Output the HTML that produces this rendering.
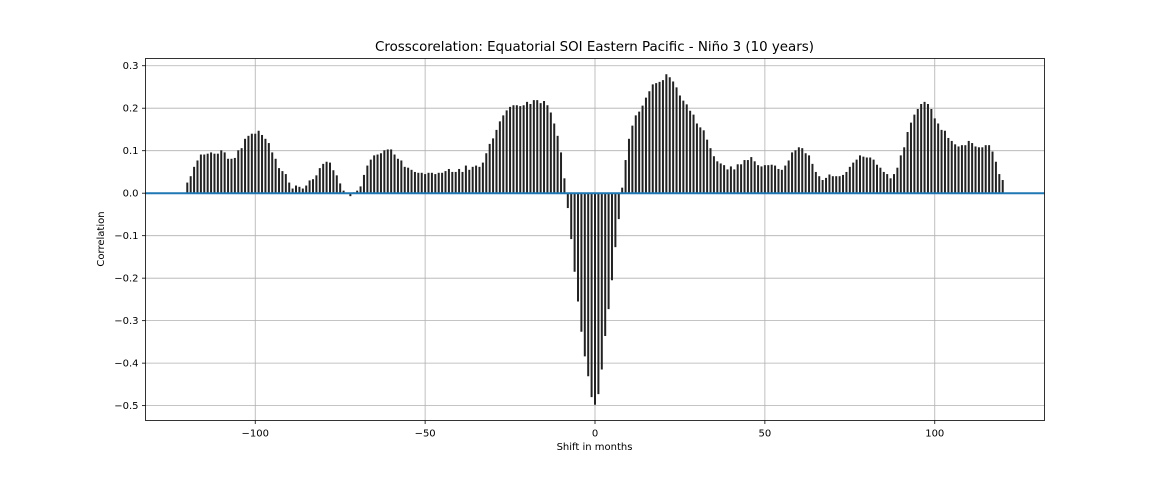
<!DOCTYPE html>
<html><head><meta charset="utf-8"><style>
html,body{margin:0;padding:0;background:#fff;}
svg{display:block;font-family:"DejaVu Sans","Liberation Sans",sans-serif;}
</style></head><body>
<svg id="chart" width="1160" height="480" viewBox="0 0 1160 480" xmlns="http://www.w3.org/2000/svg">
<rect width="1160" height="480" fill="#fff"/>
<text x="594.5" y="51" text-anchor="middle" font-size="13.4" fill="#000">Crosscorelation: Equatorial SOI Eastern Pacific - Niño 3 (10 years)</text>
<g id="grid"></g>
<g id="bars"></g>
<g id="axes"></g>
<text x="594.5" y="450" text-anchor="middle" font-size="10" fill="#000">Shift in months</text>
<text transform="translate(104,239) rotate(-90)" text-anchor="middle" font-size="10" fill="#000">Correlation</text>
</svg>
<script>
const lagStart = -120;
const corrValues = [
0.025,0.040,0.062,0.077,0.091,0.091,0.093,0.096,0.093,0.093,0.101,0.096,0.081,0.081,0.083,0.101,0.106,0.128,0.135,0.140,
0.140,0.147,0.137,0.128,0.118,0.096,0.081,0.059,0.052,0.045,0.025,0.011,0.018,0.015,0.011,0.018,0.030,0.033,0.042,0.059,
0.069,0.074,0.072,0.054,0.042,0.023,0.006,0.001,-0.007,0.002,
0.006,0.016,0.043,0.065,0.079,0.089,0.091,0.094,0.101,0.103,0.103,0.091,0.081,0.077,0.062,0.060,0.055,0.050,0.048,0.048,
0.045,0.048,0.048,0.045,0.048,0.048,0.052,0.057,0.050,0.050,0.057,0.050,0.065,0.055,0.062,0.065,0.062,0.072,0.094,0.116,
0.129,0.149,0.169,0.183,0.195,0.203,0.207,0.207,0.205,0.207,0.215,0.210,0.219,0.219,0.212,0.217,0.207,0.190,0.164,0.135,0.096,0.035,
-0.035,-0.108,-0.185,-0.255,-0.326,-0.384,-0.431,-0.480,-0.498,-0.473,-0.415,-0.336,-0.273,-0.205,-0.127,-0.061,
0.013,0.078,0.128,0.159,0.183,0.192,0.206,0.225,0.240,0.256,0.259,0.262,0.266,0.280,0.273,0.263,0.249,0.230,0.218,0.209,
0.194,0.185,0.164,0.155,0.148,0.126,0.106,0.087,0.075,0.070,0.066,0.056,0.063,0.056,0.068,0.068,0.078,0.078,0.085,0.075,
0.066,0.063,0.066,0.066,0.067,0.065,0.057,0.055,0.065,0.077,0.096,0.101,0.108,0.106,0.094,0.089,0.069,0.050,0.040,0.031,
0.036,0.044,0.040,0.040,0.040,0.043,0.050,0.062,0.072,0.079,0.089,0.086,0.084,0.084,0.079,0.067,0.060,0.050,0.045,0.035,
0.045,0.060,0.089,0.108,0.144,0.166,0.185,0.198,0.210,0.215,0.210,0.198,0.176,0.164,0.149,0.147,0.130,0.123,0.115,0.110,
0.113,0.113,0.123,0.118,0.110,0.108,0.108,0.113,0.113,0.098,0.074,0.045,0.031
];
const xTicks = [-100,-50,0,50,100];
const xTickLabels = ["\u2212100","\u221250","0","50","100"];
const yTicks = [0.3,0.2,0.1,0.0,-0.1,-0.2,-0.3,-0.4,-0.5];
const yTickLabels = ["0.3","0.2","0.1","0.0","\u22120.1","\u22120.2","\u22120.3","\u22120.4","\u22120.5"];

const L=145.5,R=1044.5,T=58.5,B=420.5;
const xMin=-132.3,xMax=132.3,yMin=-0.535,yMax=0.317;
const xs=v=>L+(v-xMin)/(xMax-xMin)*(R-L);
const ys=v=>B-(v-yMin)/(yMax-yMin)*(B-T);
const NS="http://www.w3.org/2000/svg";
function mk(tag,attrs,parent){const e=document.createElementNS(NS,tag);for(const k in attrs)e.setAttribute(k,attrs[k]);parent.appendChild(e);return e;}
const grid=document.getElementById('grid'),bars=document.getElementById('bars'),axes=document.getElementById('axes');
xTicks.forEach((t,i)=>{
  const x=xs(t);
  const g=mk('line',{x1:x,x2:x,y1:T,y2:B,stroke:'#b0b0b0','stroke-width':0.8},grid);
  
  
  const tk=mk('line',{x1:x,x2:x,y1:B,y2:B+3.5,stroke:'#000','stroke-width':0.8},axes);
  
  
  const lb=mk('text',{x:x,y:B+16,'text-anchor':'middle','font-size':10,fill:'#000'},axes);
  lb.textContent=xTickLabels[i];
  
  
});
yTicks.forEach((t,i)=>{
  const y=ys(t);
  const g=mk('line',{x1:L,x2:R,y1:y,y2:y,stroke:'#b0b0b0','stroke-width':0.8},grid);
  
  
  const tk=mk('line',{x1:L-3.5,x2:L,y1:y,y2:y,stroke:'#000','stroke-width':0.8},axes);
  
  
  const lb=mk('text',{x:L-7,y:y+3.5,'text-anchor':'end','font-size':10,fill:'#000'},axes);
  lb.textContent=yTickLabels[i];
  
  
});
corrValues.forEach((v,i)=>{
  const x=xs(lagStart+i);
  const b=mk('line',{x1:x,x2:x,y1:ys(0),y2:ys(v),stroke:'#222','stroke-width':2},bars);
  
  
});
const zl=mk('line',{x1:L,x2:R,y1:ys(0),y2:ys(0),stroke:'#1f77b4','stroke-width':2},bars);


const fr=mk('rect',{x:L,y:T,width:R-L,height:B-T,fill:'none',stroke:'#000','stroke-width':0.8},axes);


</script>
</body></html>
